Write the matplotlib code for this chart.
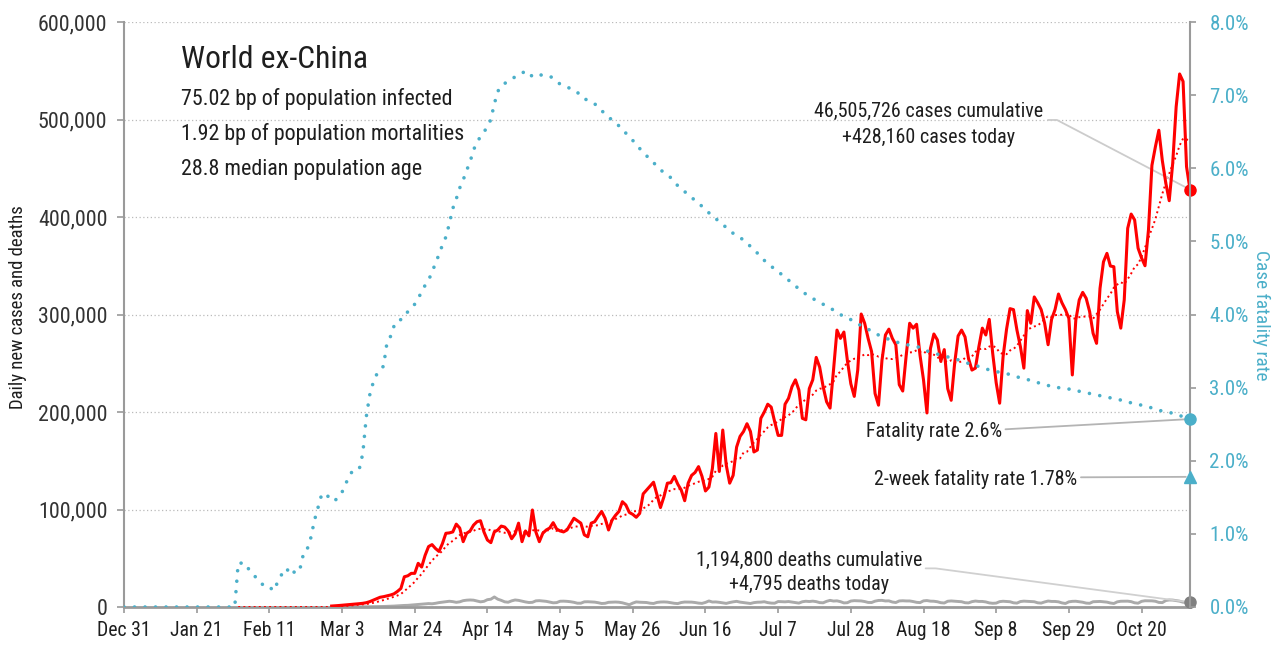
import pandas as pd
import matplotlib
matplotlib.use("Agg")
import matplotlib.pyplot as plt
import matplotlib.dates as mdates
from matplotlib import font_manager
from matplotlib.ticker import FuncFormatter, MultipleLocator

# the chart uses a condensed grotesque; take the closest installed face
installed = {f.name for f in font_manager.fontManager.ttflist}
if 'Liberation Sans Narrow' in installed:
    face, k = 'Liberation Sans Narrow', 1.0
elif 'Roboto Condensed' in installed:
    face, k = 'Roboto Condensed', 0.93
else:
    face, k = 'Liberation Sans', 0.82
plt.rcParams['font.family'] = [face, 'DejaVu Sans']

# --- data ---
first_day = "2019-12-31"
last_day = "2020-11-03"

# daily new cases (thousands), from Feb 29
cases_start = "2020-02-29"
new_cases_k = [
    1, 1.2, 1.5, 1.8, 2, 2.3, 2.6, 3, 3.4, 3.8,
    4.4, 5.5, 7, 8.5, 10, 10.6, 11.5, 12.3, 13.5, 16,
    19, 31, 32, 34.5, 34.5, 44.8, 41, 53, 62, 64,
    60, 57, 65, 75.6, 76, 77, 85, 81, 67, 75.6,
    78, 84, 87.5, 88.5, 77, 68.7, 66, 77, 79, 83,
    82, 78, 70, 75, 86, 67, 78, 73, 99.5, 77,
    67, 75.6, 79, 81, 86.5, 80, 78, 77, 79, 85,
    91, 88.5, 86, 74, 72, 86, 87.5, 93, 98, 91,
    79, 89, 94, 98, 108, 104.6, 97, 95, 92, 96,
    116, 120, 124, 128, 115, 102, 113, 127, 127.5, 134,
    126, 120, 109, 127, 135, 138, 144, 134, 119, 123,
    142, 178, 139, 181.5, 145.6, 127, 135, 164, 175, 180,
    188, 180, 159, 161, 193.5, 200, 208, 205, 190, 176,
    176, 208, 214, 226, 233, 222.5, 193.5, 192, 224, 233,
    256, 246, 226, 210.5, 204, 243, 284, 275.5, 282, 253,
    229, 216, 243, 300.5, 291, 275.5, 262, 219, 207, 253,
    279, 285, 275.5, 269, 228, 221.5, 258, 291, 286, 290,
    258, 233, 199, 265, 280, 274, 252, 264, 224, 212,
    250, 278, 284, 277, 255, 243, 245, 267, 286, 279,
    295, 260, 230, 209, 257, 285, 306, 305, 284, 267,
    245, 304, 291, 318, 312, 305, 291, 269, 295, 305,
    321, 312, 305, 296, 238, 294, 315, 322.7, 316.6, 303,
    280.7, 270.4, 326.8, 354, 362.7, 349.7, 349, 303, 286, 315,
    388.4, 403, 397, 368, 358, 350, 386.7, 453, 472, 489,
    458, 435, 416.7, 455, 513, 546.7, 539, 451.6, 428.16,
]

# daily new deaths (thousands), from Feb 29
deaths_start = "2020-02-29"
new_deaths_k = [
    0.01, 0.01, 0.02, 0.03, 0.04, 0.05, 0.06, 0.08, 0.1, 0.15,
    0.2, 0.25, 0.3, 0.35, 0.45, 0.55, 0.65, 0.8, 0.95, 1.2,
    1.4, 1.6, 1.7, 2.0, 2.2, 2.5, 2.9, 3.3, 3.5, 3.3,
    3.8, 4.5, 5.0, 5.6, 5.9, 5.5, 4.8, 5.3, 6.5, 7.0,
    7.2, 7.0, 6.2, 5.3, 5.8, 7.5, 8.0, 10.3, 8.0, 6.8,
    5.3, 4.9, 6.3, 7.2, 6.8, 6.0, 5.2, 4.6, 4.8, 6.3,
    6.5, 6.1, 5.8, 5.0, 4.3, 4.5, 5.9, 6.0, 5.8, 5.4,
    4.8, 3.9, 3.9, 5.3, 5.4, 5.2, 5.0, 4.4, 3.6, 3.8,
    4.8, 5.0, 5.1, 4.9, 4.3, 3.3, 2.3, 4.0, 5.2, 4.9,
    4.8, 4.6, 3.9, 3.6, 4.7, 5.1, 5.2, 5.0, 4.4, 3.8,
    3.5, 4.6, 5.1, 5.0, 5.0, 4.6, 4.0, 3.7, 4.7, 6.2,
    5.1, 5.2, 4.8, 4.2, 3.7, 4.6, 5.3, 5.8, 5.0, 4.5,
    3.9, 3.6, 4.5, 4.9, 5.0, 5.4, 4.5, 4.0, 3.9, 5.6,
    5.4, 5.3, 5.6, 5.1, 4.5, 4.0, 5.4, 5.9, 5.6, 6.0,
    5.5, 4.5, 4.3, 5.8, 6.8, 6.1, 6.3, 5.5, 4.2, 4.4,
    6.1, 6.5, 6.4, 6.2, 5.6, 4.7, 4.6, 6.0, 6.7, 6.8,
    6.2, 6.3, 5.1, 4.6, 6.2, 6.4, 6.2, 6.2, 5.6, 4.8,
    4.5, 6.3, 6.6, 6.0, 5.9, 5.4, 4.4, 4.1, 5.9, 6.2,
    5.9, 5.5, 5.4, 4.4, 4.2, 5.5, 6.1, 5.7, 5.7, 5.2,
    4.2, 3.8, 4.0, 5.5, 5.9, 5.6, 5.4, 4.3, 4.0, 5.6,
    6.0, 5.8, 5.6, 5.4, 4.3, 4.0, 5.2, 6.1, 5.7, 5.7,
    5.3, 4.2, 3.6, 5.3, 5.8, 5.9, 5.4, 4.9, 4.0, 3.8,
    5.4, 5.5, 5.7, 5.4, 5.0, 4.1, 3.6, 5.3, 5.9, 6.0,
    6.0, 5.5, 4.3, 3.9, 5.8, 6.4, 6.4, 6.3, 5.9, 4.7,
    4.5, 6.6, 7.2, 7.1, 6.6, 6.0, 4.9, 4.9, 4.795,
]

# case fatality rate (%), from Feb 2
cfr_start = "2020-02-02"
cfr_pct = [
    0.60, 0.60, 0.60, 0.52, 0.47, 0.41, 0.35, 0.31, 0.30, 0.29,
    0.22, 0.30, 0.40, 0.48, 0.53, 0.44, 0.48, 0.46, 0.55, 0.76,
    0.80, 0.95, 1.18, 1.35, 1.52, 1.56, 1.51, 1.45, 1.46, 1.50,
    1.57, 1.68, 1.78, 1.86, 1.87, 1.89, 2.10, 2.60, 2.90, 3.07,
    3.18, 3.22, 3.30, 3.62, 3.70, 3.84, 3.92, 3.93, 3.96, 4.04,
    4.10, 4.14, 4.22, 4.31, 4.40, 4.47, 4.58, 4.70, 4.82, 4.95,
    5.06, 5.24, 5.45, 5.58, 5.73, 5.84, 5.97, 6.09, 6.25, 6.36,
    6.43, 6.50, 6.56, 6.67, 6.88, 7.05, 7.13, 7.16, 7.19, 7.22,
    7.25, 7.28, 7.30, 7.33, 7.31, 7.25, 7.25, 7.27, 7.28, 7.27,
    7.26, 7.23, 7.19, 7.15, 7.13, 7.11, 7.09, 7.06, 7.04, 6.98,
    6.95, 6.93, 6.91, 6.88, 6.84, 6.79, 6.74, 6.70, 6.66, 6.62,
    6.58, 6.54, 6.48, 6.43, 6.38, 6.33, 6.27, 6.22, 6.17, 6.12,
    6.08, 6.02, 5.98, 5.94, 5.91, 5.87, 5.82, 5.76, 5.72, 5.68,
    5.64, 5.60, 5.56, 5.52, 5.48, 5.44, 5.39, 5.34, 5.31, 5.27,
    5.23, 5.19, 5.15, 5.11, 5.08, 5.05, 5.02, 4.98, 4.93, 4.88,
    4.84, 4.79, 4.74, 4.70, 4.66, 4.62, 4.58, 4.55, 4.51, 4.47,
    4.43, 4.39, 4.35, 4.31, 4.28, 4.25, 4.22, 4.19, 4.17, 4.14,
    4.12, 4.09, 4.06, 4.03, 4.00, 3.97, 3.95, 3.93, 3.90, 3.87,
    3.85, 3.82, 3.80, 3.77, 3.74, 3.72, 3.70, 3.68, 3.66, 3.64,
    3.63, 3.61, 3.60, 3.59, 3.58, 3.57, 3.56, 3.55, 3.53, 3.50,
    3.49, 3.48, 3.46, 3.44, 3.43, 3.42, 3.41, 3.40, 3.38, 3.37,
    3.35, 3.33, 3.31, 3.30, 3.29, 3.27, 3.26, 3.24, 3.23, 3.22,
    3.21, 3.20, 3.19, 3.18, 3.16, 3.15, 3.13, 3.12, 3.11, 3.10,
    3.08, 3.07, 3.05, 3.04, 3.03, 3.01, 3.00, 3.00, 2.99, 2.99,
    2.98, 2.98, 2.97, 2.95, 2.94, 2.93, 2.92, 2.91, 2.90, 2.89,
    2.88, 2.87, 2.86, 2.85, 2.84, 2.83, 2.82, 2.81, 2.79, 2.78,
    2.77, 2.76, 2.75, 2.74, 2.72, 2.71, 2.69, 2.68, 2.67, 2.66,
    2.65, 2.64, 2.62, 2.60, 2.59, 2.57,
]

cum_cases = 46505726
cum_deaths = 1194800
two_week_cfr = 1.78
infected_bp = 75.02
mortality_bp = 1.92
median_age = 28.8
region = "World ex-China"

# --- build series ---
days = pd.date_range(first_day, last_day)
cases = pd.Series(new_cases_k, index=pd.date_range(cases_start, periods=len(new_cases_k))) * 1000
cases = cases.reindex(days)
deaths = pd.Series(new_deaths_k, index=pd.date_range(deaths_start, periods=len(new_deaths_k))) * 1000
deaths = deaths.reindex(days)
cfr = pd.Series(cfr_pct, index=pd.date_range(cfr_start, periods=len(cfr_pct))).reindex(days).fillna(0)
cases_avg = cases.fillna(0).rolling(7, min_periods=1).mean()
cases_avg[cases_avg.index < pd.Timestamp(cfr_start)] = float('nan')

blue = '#4bafc9'
ink = '#1e1e1e'
axis_gray = '#9a9a9a'

fig = plt.figure(figsize=(12.82, 6.47), dpi=100)
ax = fig.add_axes([124 / 1282, 40 / 647, 1066 / 1282, 585 / 647])
ax2 = ax.twinx()

ax.plot(days, deaths, color='#aaaaaa', lw=2.1, zorder=2)
ax.plot(days, cases_avg, color='red', lw=1.4, ls=':', zorder=3)
ax.plot(days, cases, color='red', lw=2.2, zorder=4)
ax2.plot(days, cfr, color=blue, lw=2.6, ls=(0, (0.01, 2.9)), dash_capstyle='round', zorder=3)

# end markers
ax.plot([days[-1]], [cases.iloc[-1]], 'o', color='red', ms=8, clip_on=False, zorder=6)
ax.plot([days[-1]], [deaths.iloc[-1]], 'o', color='#808080', ms=8, clip_on=False, zorder=6)
ax2.plot([days[-1]], [cfr.iloc[-1]], 'o', color=blue, ms=8, clip_on=False, zorder=6)
ax2.plot([days[-1]], [two_week_cfr], '^', color=blue, ms=9, clip_on=False, zorder=6)

# axes styling
ax.set_xlim(days[0], days[-1])
ax.set_ylim(0, 600000)
ax2.set_ylim(0, 8)
ax.set_xticks(pd.date_range(first_day, last_day, freq='21D'))
ax.xaxis.set_major_formatter(mdates.DateFormatter('%b %-d'))
ax.yaxis.set_major_locator(MultipleLocator(100000))
ax.yaxis.set_major_formatter(FuncFormatter(lambda v, _: f'{v:,.0f}'))
ax2.yaxis.set_major_locator(MultipleLocator(1))
ax2.yaxis.set_major_formatter(FuncFormatter(lambda v, _: f'{v:.1f}%'))

ax.grid(axis='y', ls=(0, (1, 2)), color='#bbbbbb', lw=0.9)
ax.set_axisbelow(True)

for a in (ax, ax2):
    a.spines['top'].set_visible(False)
ax.spines['right'].set_visible(False)
ax2.spines['left'].set_visible(False)
ax2.spines['bottom'].set_visible(False)
ax.spines['left'].set_color(axis_gray)
ax.spines['left'].set_linewidth(1.5)
ax.spines['bottom'].set_color(axis_gray)
ax.spines['bottom'].set_linewidth(2)
ax2.spines['right'].set_color(axis_gray)
ax2.spines['right'].set_linewidth(1.5)

ax.tick_params(axis='y', length=5, width=1.2, color=axis_gray, labelsize=17 * k, labelcolor='#333333', pad=7)
ax.tick_params(axis='x', length=4, width=1.2, color=axis_gray, labelsize=15.3 * k, labelcolor=ink, pad=6)
ax2.tick_params(axis='y', length=4.5, width=1.2, color=axis_gray, labelsize=16.2 * k, labelcolor=blue, pad=9.5)

ax.set_ylabel('Daily new cases and deaths', fontsize=14.5 * k, color=ink)
ax.yaxis.label.set(rotation_mode='default', va='center', ha='center')
ax.yaxis.set_label_coords(-0.0999, 0.512)
ax2.set_ylabel('Case fatality rate', rotation=270, fontsize=15 * k, color=blue)
ax2.yaxis.label.set(rotation_mode='default', va='center', ha='center')
ax2.yaxis.set_label_coords(1.0665, 0.498)

# header block
tx = dict(transform=ax.transAxes, color=ink, va='baseline')
ax.text(0.0535, 0.921, region, fontsize=24.5 * k, **tx)
ax.text(0.0535, 0.858, f'{infected_bp:.2f} bp of population infected', fontsize=17 * k, **tx)
ax.text(0.0535, 0.798, f'{mortality_bp:.2f} bp of population mortalities', fontsize=17 * k, **tx)
ax.text(0.0535, 0.738, f'{median_age} median population age', fontsize=17 * k, **tx)

# call-outs
note = 15.5 * k
cases_today = int(round(cases.iloc[-1]))
deaths_today = int(round(deaths.iloc[-1]))
ax.text(0.755, 0.8376, f'{cum_cases:,} cases cumulative', ha='center', fontsize=note, **tx)
ax.text(0.755, 0.793, f'+{cases_today:,} cases today', ha='center', fontsize=note, **tx)
ax.annotate('', xy=(days[-1], cases.iloc[-1]), xytext=(0.8668, 0.8325), textcoords='axes fraction',
            arrowprops=dict(arrowstyle='-', color='#cccccc', lw=1.3, shrinkA=0, shrinkB=3,
                            connectionstyle='angle,angleA=0,angleB=-27.6,rad=0'),
            annotation_clip=False)

ax.text(0.8236, 0.2906, f'Fatality rate {cum_deaths / cum_cases * 100:.1f}%', ha='right', fontsize=note, **tx)
ax2.annotate('', xy=(days[-1], cfr.iloc[-1]), xytext=(0.8269, 0.3038), textcoords='axes fraction',
             arrowprops=dict(arrowstyle='-', color='#b4b4b4', lw=1.3, shrinkA=0, shrinkB=3),
             annotation_clip=False)

ax.text(0.894, 0.2085, f'2-week fatality rate {two_week_cfr}%', ha='right', fontsize=note, **tx)
ax2.annotate('', xy=(days[-1], two_week_cfr), xytext=(0.8977, 0.2217), textcoords='axes fraction',
             arrowprops=dict(arrowstyle='-', color='#b4b4b4', lw=1.3, shrinkA=0, shrinkB=3),
             annotation_clip=False)

ax.text(0.643, 0.0706, f'{cum_deaths:,} deaths cumulative', ha='center', fontsize=note, **tx)
ax.text(0.643, 0.029, f'+{deaths_today:,} deaths today', ha='center', fontsize=note, **tx)
ax.annotate('', xy=(days[-1], deaths.iloc[-1]), xytext=(0.752, 0.066), textcoords='axes fraction',
            arrowprops=dict(arrowstyle='-', color='#d0d0d0', lw=1.3, shrinkA=0, shrinkB=3,
                            connectionstyle='angle,angleA=0,angleB=-7.6,rad=0'),
            annotation_clip=False)

fig.savefig('out.png', dpi=100)
